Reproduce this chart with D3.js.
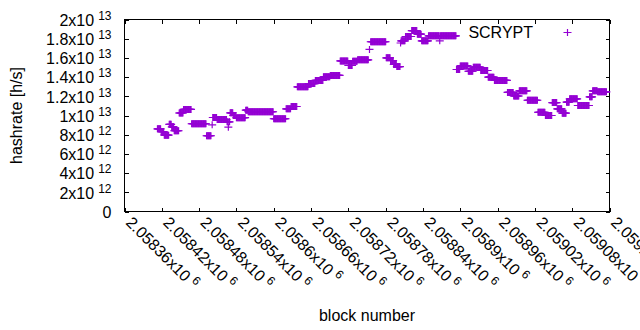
<!DOCTYPE html>
<html><head><meta charset="utf-8">
<script src="https://cdn.jsdelivr.net/npm/d3@7"></script>
<style>
body{margin:0;background:#fff;}
svg{display:block;}
text{font-family:"Liberation Sans",Arial,sans-serif;fill:#000;}
</style>
</head><body><svg id="c" width="640" height="330"></svg>
<script>
// ---- data (hashrate in units of 1e12 h/s, piecewise-constant runs of blocks) ----
const seriesName = "SCRYPT";
const runStart = [2058413,2058419,2058424,2058432,2058436,2058440,2058448,2058455,2058468,2058492,
  2058501,2058502,2058509,2058525,2058527,2058528,2058530,2058535,2058540,2058555,
  2058559,2058600,2058620,2058628,2058638,2058656,2058667,2058680,2058691,2058707,
  2058720,2058727,2058735,2058754,2058756,2058781,2058788,2058793,2058798,2058804,
  2058805,2058812,2058822,2058831,2058838,2058849,2058867,2058868,2058894,2058900,
  2058913,2058921,2058933,2058945,2058955,2058976,2058986,2058995,2059008,2059025,
  2059037,2059048,2059056,2059064,2059071,2059076,2059089,2059108,2059113,2059121];
const runEnd = [2058418,2058423,2058431,2058435,2058439,2058447,2058454,2058467,2058491,2058499,
  2058501,2058508,2058524,2058526,2058527,2058529,2058534,2058539,2058554,2058558,
  2058599,2058619,2058627,2058637,2058655,2058666,2058679,2058690,2058706,2058719,
  2058726,2058734,2058752,2058754,2058780,2058787,2058792,2058797,2058803,2058804,
  2058811,2058821,2058830,2058837,2058848,2058866,2058867,2058893,2058899,2058912,
  2058920,2058932,2058944,2058954,2058975,2058985,2058994,2059007,2059024,2059036,
  2059047,2059055,2059063,2059070,2059075,2059088,2059107,2059112,2059120,2059135];
const runValue = [8.61,8.33,7.95,9.08,8.82,8.41,10.26,10.63,9.14,7.89,
  9.03,9.79,9.58,9.34,8.78,9.34,10.28,10.0,9.77,10.55,
  10.39,9.66,10.7,10.94,12.99,13.33,13.65,14.03,14.17,15.68,
  15.21,15.66,15.80,16.88,17.68,16.01,15.73,15.31,15.10,17.55,
  17.78,18.23,18.85,18.47,17.78,18.30,17.78,18.30,14.79,15.16,
  14.61,15.03,14.69,13.99,13.65,12.40,12.03,12.57,11.59,10.34,
  10.0,11.35,10.70,10.24,11.39,11.74,11.04,11.95,12.57,12.47];
const valueUnit = 1e12;

const xTickMantissa = ["2.05836","2.05842","2.05848","2.05854","2.0586","2.05866","2.05872",
  "2.05878","2.05884","2.0589","2.05896","2.05902","2.05908","2.05914"];
const xTickExponent = 6;
const yTickMantissa = ["0","2","4","6","8","1","1.2","1.4","1.6","1.8","2"];
const yTickExponent = [null,12,12,12,12,13,13,13,13,13,13];
const xTitle = "block number";
const yTitle = "hashrate [h/s]";

// ---- build points ----
const points = [];
runStart.forEach((s, i) => {
  for (let b = s; b <= runEnd[i]; b++) points.push({block: b, value: runValue[i] * valueUnit});
});
const xTickValues = xTickMantissa.map(m => Math.round(parseFloat(m) * Math.pow(10, xTickExponent)));
const yTickValues = yTickMantissa.map((m, i) => yTickExponent[i] == null ? 0 : parseFloat(m) * Math.pow(10, yTickExponent[i]));

// ---- layout ----
const L = 124.5, R = 609.5, T = 19.5, B = 211.5;
const color = "#9400d3";
const svg = d3.select("#c");

const x = d3.scaleLinear().domain([xTickValues[0], xTickValues[xTickValues.length - 1]]).range([L, R]);
const y = d3.scaleLinear().domain([yTickValues[0], yTickValues[yTickValues.length - 1]]).range([B, T]);

// axes (inward ticks, mirrored)
const tick = 4;
const gx = svg.append("g").attr("transform", `translate(0,${B})`)
  .call(d3.axisBottom(x).tickValues(xTickValues).tickSizeInner(-tick).tickSizeOuter(0).tickFormat(""));
svg.append("g").attr("transform", `translate(0,${T})`)
  .call(d3.axisTop(x).tickValues(xTickValues).tickSizeInner(-tick).tickSizeOuter(0).tickFormat(""));
const gy = svg.append("g").attr("transform", `translate(${L},0)`)
  .call(d3.axisLeft(y).tickValues(yTickValues).tickSizeInner(-tick).tickSizeOuter(0).tickPadding(13).tickFormat(""));
svg.append("g").attr("transform", `translate(${R},0)`)
  .call(d3.axisRight(y).tickValues(yTickValues).tickSizeInner(-tick).tickSizeOuter(0).tickFormat(""));
svg.selectAll(".domain").remove();
svg.selectAll(".tick line").attr("stroke", "#000").attr("shape-rendering", "crispEdges");

// y tick labels with superscript exponent
gy.selectAll(".tick text").each(function(d, i) {
  const t = d3.select(this).attr("font-size", 16).attr("font-family", null).attr("dy", "0.36em").attr("text-anchor", "end");
  t.text(null);
  if (yTickExponent[i] == null) { t.append("tspan").text(yTickMantissa[i]); return; }
  t.append("tspan").text(yTickMantissa[i] + "x10");
  t.append("tspan").attr("font-size", 12).attr("dx", 4).attr("dy", -6).text(yTickExponent[i]);
});

// x tick labels rotated, with superscript exponent
gx.selectAll(".tick text").each(function(d, i) {
  const t = d3.select(this).attr("font-size", 16).attr("font-family", null)
    .attr("text-anchor", "start").attr("x", 0).attr("y", 0).attr("dy", null)
    .attr("transform", "translate(0,12) rotate(45)");
  t.text(null);
  t.append("tspan").text(xTickMantissa[i] + "x10");
  t.append("tspan").attr("font-size", 12).attr("dx", 4).attr("dy", -6).text(xTickExponent);
});

// border
svg.append("rect").attr("x", L).attr("y", T).attr("width", R - L).attr("height", B - T)
  .attr("fill", "none").attr("stroke", "#000").attr("stroke-width", 1).attr("shape-rendering", "crispEdges");

// points
const plus = "M-4,0H4M0,-3.5V3.5";
svg.append("g").selectAll("path").data(points).join("path")
  .attr("d", plus)
  .attr("transform", d => `translate(${x(d.block)},${y(d.value)})`)
  .attr("stroke", color).attr("stroke-width", 1.2).attr("fill", "none");

// legend
svg.append("text").attr("x", 533).attr("y", 37.5).attr("text-anchor", "end").attr("font-size", 16).text(seriesName);
svg.append("path").attr("d", plus).attr("transform", "translate(567.5,32.5)")
  .attr("stroke", color).attr("stroke-width", 1.2).attr("fill", "none");

// axis titles
svg.append("text").attr("transform", `translate(22,${(T + B) / 2}) rotate(-90)`)
  .attr("text-anchor", "middle").attr("font-size", 16).text(yTitle);
svg.append("text").attr("x", (L + R) / 2).attr("y", 321).attr("text-anchor", "middle")
  .attr("font-size", 16).text(xTitle);
</script>
</body></html>
